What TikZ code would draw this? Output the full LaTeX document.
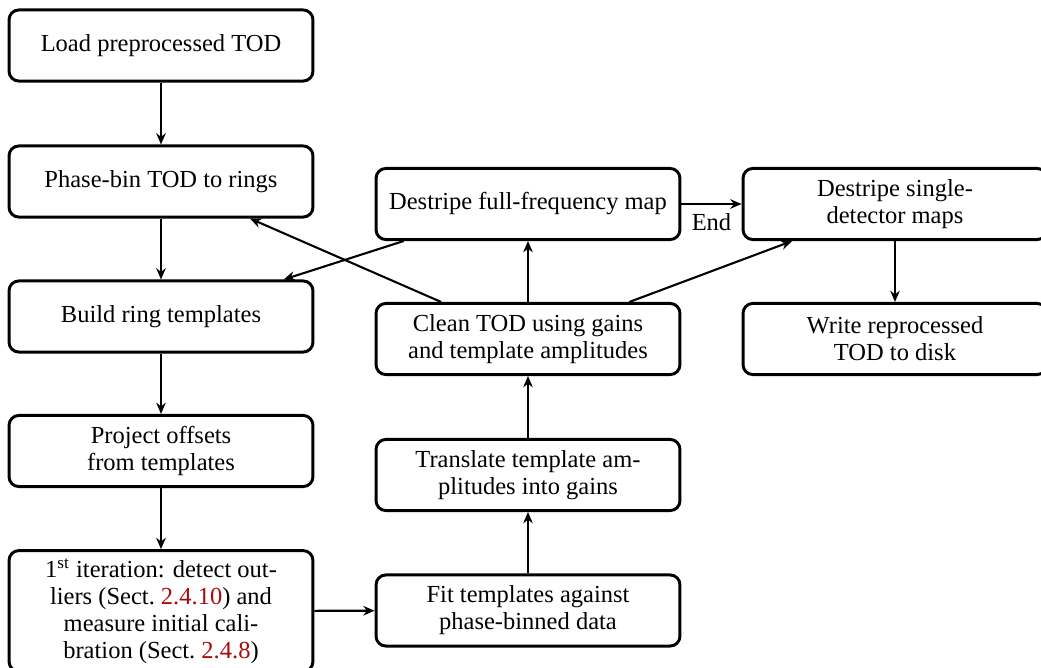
\documentclass[tikz,border=0pt]{standalone}
\usepackage{fontspec}
\setmainfont{Liberation Serif}
\usetikzlibrary{arrows.meta,calc}
\definecolor{refred}{RGB}{170,10,10}
\begin{document}
\begin{tikzpicture}[x=0.408pt,y=-0.408pt,
  stepbox/.style={draw,line width=1.2pt,rounded corners=4pt,minimum width=124pt,minimum height=29pt,
    align=center,inner sep=3.3pt,font=\fontsize{10}{11}\selectfont},
  conn/.style={line width=0.85pt,-{Stealth[length=4.6pt,width=3.9pt,inset=1.5pt]}}]
\useasboundingbox (0,0) rectangle (1041,668);
\clip (0,0) rectangle (1041,668);
\node[stepbox] (A) at (161,45.5) {Load preprocessed TOD};
\node[stepbox] (B) at (161,181.5) {Phase-bin TOD to rings};
\node[stepbox] (C) at (161,316.5) {Build ring templates};
\node[stepbox] (D) at (161,451) {Project offsets\\from templates};
\node[stepbox] (E) at (161,611) {1\textsuperscript{st} iteration: detect out-\\liers (Sect.~\textcolor{refred}{2.4.10}) and\\measure initial cali-\\bration (Sect.~\textcolor{refred}{2.4.8})};
\node[stepbox] (F) at (528,610.5) {Fit templates against\\phase-binned data};
\node[stepbox] (G) at (528,475) {Translate template am-\\plitudes into gains};
\node[stepbox] (H) at (528,339) {Clean TOD using gains\\and template amplitudes};
\node[stepbox] (I) at (528,204) {Destripe full-frequency map};
\node[stepbox] (J) at (895,204) {Destripe single-\\detector maps};
\node[stepbox] (K) at (895,339) {Write reprocessed\\TOD to disk};
\draw[conn] (A) -- (B);
\draw[conn] (B) -- (C);
\draw[conn] (C) -- (D);
\draw[conn] (D) -- (E);
\draw[conn] (E) -- (F);
\draw[conn] (F) -- (G);
\draw[conn] (G) -- (H);
\draw[conn] (H) -- (I);
\draw[conn] (I) -- node[below,font=\fontsize{10}{11}\selectfont] {End} (J);
\draw[conn] (J) -- (K);
\draw[conn] ($(H.north west)!0.217!(H.north east)$) -- ($(B.south west)!0.79!(B.south east)$);
\draw[conn] ($(I.south west)!0.095!(I.south east)$) -- ($(C.north west)!0.90!(C.north east)$);
\draw[conn] ($(H.north west)!0.83!(H.north east)$) -- ($(J.south west)!0.165!(J.south east)$);
\end{tikzpicture}
\end{document}
